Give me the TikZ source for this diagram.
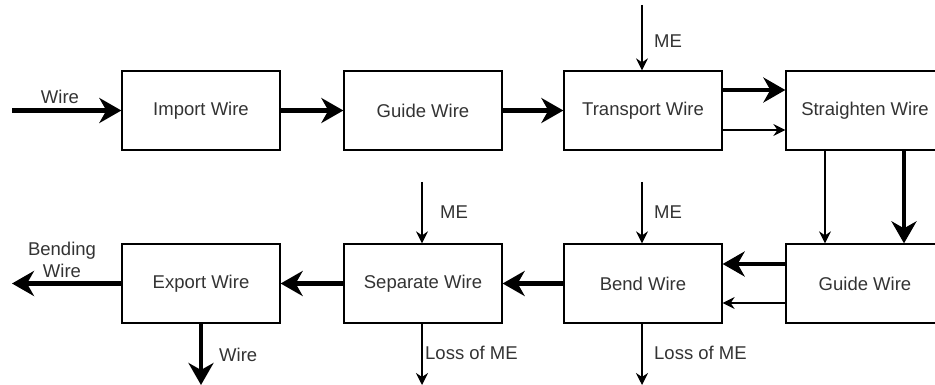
\documentclass[tikz,border=0pt]{standalone}
\usepackage{fontspec}
\setmainfont{Liberation Sans}
\usetikzlibrary{arrows.meta}
\definecolor{txt}{HTML}{333333}
\tikzset{
  x=1pt, y=-1pt,
  proc/.style={draw=black, line width=1.3pt, fill=white, minimum width=158pt,
    minimum height=79pt, inner sep=0pt, text=txt, font=\fontsize{18.5}{21}\selectfont},
  heavy/.style={line width=4.5pt, -{Stealth[length=22pt, width=25pt, inset=7pt]}},
  light/.style={line width=1.3pt, -{Stealth[length=12pt, width=12pt, inset=4pt]}},
  lbl/.style={text=txt, font=\fontsize{18.5}{22}\selectfont, inner sep=0pt, align=center},
}
\begin{document}
\begin{tikzpicture}
\clip (0,0) rectangle (935,385);
\fill[white] (0,0) rectangle (935,385);

% top row
\node[proc] (import) at (201,110.5) {Import Wire};
\node[proc] (guide1) at (423,110.5) {Guide Wire};
\node[proc] (transport) at (643,110.5) {Transport Wire};
\node[proc] (straight) at (865,110.5) {Straighten Wire};

% bottom row
\node[proc] (export) at (201,283.5) {Export Wire};
\node[proc] (separate) at (423,283.5) {Separate Wire};
\node[proc] (bend) at (643,283.5) {Bend Wire};
\node[proc] (guide2) at (865,283.5) {Guide Wire};

% free ends
\coordinate (inw) at (12,110.5);
\coordinate (outw) at (12,283.5);
\coordinate (outd) at (201,385);
\coordinate (meT) at (642,5);
\coordinate (meS) at (422,182);
\coordinate (meB) at (642,182);
\coordinate (lossS) at (422,385);
\coordinate (lossB) at (642,385);

% wire flow
\draw[heavy] (inw) -- (import.west);
\draw[heavy] (import.east) -- (guide1.west);
\draw[heavy] (guide1.east) -- (transport.west);
\draw[heavy] (transport.east |- 0,90) -- (straight.west |- 0,90);
\draw[light] (transport.east |- 0,130) -- (straight.west |- 0,130);
\draw[light] (straight.south -| 825,0) -- (guide2.north -| 825,0);
\draw[heavy] (straight.south -| 904,0) -- (guide2.north -| 904,0);
\draw[heavy] (guide2.west |- 0,264) -- (bend.east |- 0,264);
\draw[light] (guide2.west |- 0,303) -- (bend.east |- 0,303);
\draw[heavy] (bend.west) -- (separate.east);
\draw[heavy] (separate.west) -- (export.east);
\draw[heavy] (export.west) -- (outw);
\draw[heavy] (export.south) -- (outd);

% mechanical energy
\draw[light] (meT) -- (transport.north -| meT);
\draw[light] (meS) -- (separate.north -| meS);
\draw[light] (meB) -- (bend.north -| meB);
\draw[light] (separate.south -| lossS) -- (lossS);
\draw[light] (bend.south -| lossB) -- (lossB);

% labels
\node[lbl] at (60,97) {Wire};
\node[lbl] at (62,260) {Bending\\Wire};
\node[lbl, anchor=west] at (219,355) {Wire};
\node[lbl, anchor=west] at (654,41) {ME};
\node[lbl, anchor=west] at (440,212) {ME};
\node[lbl, anchor=west] at (654,212) {ME};
\node[lbl, anchor=west] at (425,353) {Loss of ME};
\node[lbl, anchor=west] at (654,353) {Loss of ME};
\end{tikzpicture}
\end{document}
